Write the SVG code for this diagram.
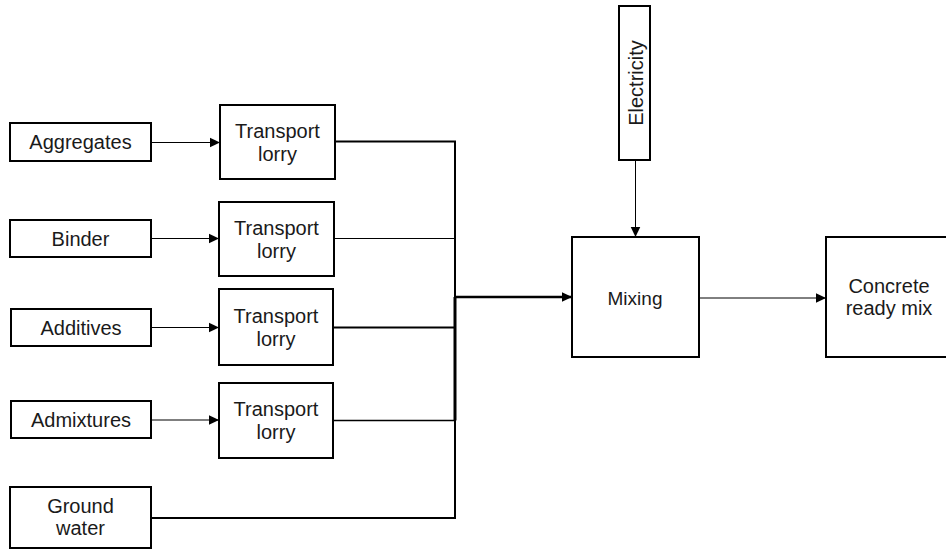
<svg xmlns="http://www.w3.org/2000/svg" width="946" height="550" viewBox="0 0 946 550">
  <style>
    .box { fill: #ffffff; stroke: #000000; stroke-width: 2; }
    .lbl { font-family: "Liberation Sans", Arial, sans-serif; font-size: 20px; fill: #1a1a1a; text-anchor: middle; }
    .wire { fill: none; stroke: #000000; }
  </style>
  <defs>
    <marker id="arrow" markerUnits="userSpaceOnUse" markerWidth="11" markerHeight="11" viewBox="0 0 11 11" refX="10.5" refY="5.5" orient="auto">
      <path d="M0,0.5 L10.5,5.5 L0,10.5 Z" fill="#000000"/>
    </marker>
  </defs>

  <!-- raw materials -->
  <g id="aggregates">
    <rect class="box" x="10" y="123" width="141" height="38"/>
    <text class="lbl" x="80.5" y="149">Aggregates</text>
  </g>
  <g id="binder">
    <rect class="box" x="10" y="220" width="141" height="37"/>
    <text class="lbl" x="80.5" y="245.5">Binder</text>
  </g>
  <g id="additives">
    <rect class="box" x="11" y="309" width="140" height="37"/>
    <text class="lbl" x="81" y="334.5">Additives</text>
  </g>
  <g id="admixtures">
    <rect class="box" x="11" y="401" width="140" height="37"/>
    <text class="lbl" x="81" y="426.5">Admixtures</text>
  </g>
  <g id="ground-water">
    <rect class="box" x="10" y="487" width="141" height="61"/>
    <text class="lbl" x="80.5" y="512.5">Ground</text>
    <text class="lbl" x="80.5" y="535">water</text>
  </g>

  <!-- transport -->
  <g id="lorry-1">
    <rect class="box" x="220" y="105" width="115" height="74"/>
    <text class="lbl" x="277.5" y="137.5">Transport</text>
    <text class="lbl" x="277.5" y="160.5">lorry</text>
  </g>
  <g id="lorry-2">
    <rect class="box" x="219" y="202" width="115" height="74"/>
    <text class="lbl" x="276.5" y="234.5">Transport</text>
    <text class="lbl" x="276.5" y="257.5">lorry</text>
  </g>
  <g id="lorry-3">
    <rect class="box" x="219" y="289" width="114" height="76"/>
    <text class="lbl" x="276" y="322.5">Transport</text>
    <text class="lbl" x="276" y="345.5">lorry</text>
  </g>
  <g id="lorry-4">
    <rect class="box" x="219" y="383" width="114" height="75"/>
    <text class="lbl" x="276" y="415.5">Transport</text>
    <text class="lbl" x="276" y="438.5">lorry</text>
  </g>

  <!-- process -->
  <g id="electricity">
    <rect class="box" x="619" y="6" width="31" height="154"/>
    <text class="lbl" transform="translate(642.5,83) rotate(-90)">Electricity</text>
  </g>
  <g id="mixing">
    <rect class="box" x="572" y="237" width="127" height="120"/>
    <text class="lbl" x="635" y="304.5" style="font-size:19px">Mixing</text>
  </g>
  <g id="concrete">
    <rect class="box" x="826" y="237" width="126" height="120"/>
    <text class="lbl" x="889" y="292.5">Concrete</text>
    <text class="lbl" x="889" y="315">ready mix</text>
  </g>

  <!-- connectors -->
  <g id="connectors">
    <path class="wire" stroke-width="1.2" d="M151,142.5 H220" marker-end="url(#arrow)"/>
    <path class="wire" stroke-width="1.2" d="M151,238.5 H219" marker-end="url(#arrow)"/>
    <path class="wire" stroke-width="1.2" d="M151,327.5 H219" marker-end="url(#arrow)"/>
    <path class="wire" stroke-width="1.2" d="M151,420 H219" marker-end="url(#arrow)"/>

    <path class="wire" stroke-width="2" d="M335,141.5 H455 V297"/>
    <path class="wire" stroke-width="1" d="M334,238.5 H455"/>
    <path class="wire" stroke-width="2" stroke="#333333" d="M333,327.5 H455"/>
    <path class="wire" stroke-width="1.5" d="M333,420.5 H455"/>
    <path class="wire" stroke-width="3" d="M455,297 V420.5"/>
    <path class="wire" stroke-width="2" stroke="#222222" d="M151,518 H455 V420"/>

    <path class="wire" stroke-width="2.5" d="M455,297 H572" marker-end="url(#arrow)"/>
    <path class="wire" stroke-width="1" d="M635.5,160 V237" marker-end="url(#arrow)"/>
    <path class="wire" stroke-width="1" d="M699,298 H826" marker-end="url(#arrow)"/>
  </g>
</svg>
